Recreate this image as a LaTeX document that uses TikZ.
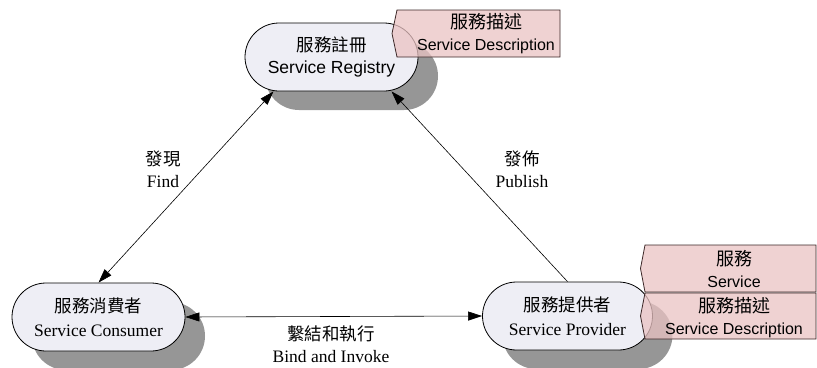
\documentclass[tikz,border=0pt]{standalone}
\usepackage{fontspec}
\setmainfont{Liberation Serif}
\setsansfont{Liberation Sans}
\newfontfamily\cjk{Noto Sans CJK TC}
\usetikzlibrary{shapes.misc,shadows,arrows.meta}
\definecolor{bubble}{RGB}{238,238,245}
\definecolor{shade}{RGB}{150,150,150}
\definecolor{tagpink}{RGB}{234,195,195}
\definecolor{tagline}{RGB}{60,40,40}

\begin{document}
\begin{tikzpicture}[x=1pt,y=-1pt,
  role/.style={rounded rectangle, draw=black, line width=0.8pt, fill=bubble,
    minimum width=173pt, minimum height=68pt, inner sep=0pt, align=center,
    drop shadow={shadow xshift=20pt, shadow yshift=-19pt, fill=shade, opacity=1}},
  rolesans/.style={role, font=\fontsize{17.5}{22}\sffamily},
  roleserif/.style={role, font=\fontsize{17.5}{24}\selectfont},
  tag/.style={fill=tagpink, fill opacity=0.75, draw=tagline, line width=0.8pt},
  tagtext/.style={align=center, font=\fontsize{16}{22.5}\sffamily},
  lbl/.style={align=center, font=\fontsize{17.5}{22}\selectfont},
  link/.style={line width=0.6pt, {Triangle[length=14pt,width=9pt]}-{Triangle[length=14pt,width=9pt]}},
  onelink/.style={line width=0.6pt, -{Triangle[length=14pt,width=9pt]}}
]
\useasboundingbox (0,0) rectangle (817,367);

% the three roles
\node[rolesans] (reg) at (331.5,57) {{\cjk 服務註冊}\\Service Registry};
\node[roleserif] (cons) at (98.5,317) {{\cjk 服務消費者}\\Service Consumer};
\node[roleserif, minimum width=170pt] (prov) at (567.5,316) {{\cjk 服務提供者}\\Service Provider};

% description tags
\filldraw[tag] (397,10) -- (560,10) -- (560,57) -- (397,57) -- (392,33.5) -- cycle;
\node[tagtext] (regdesc) at (486,33.5) {{\cjk\fontsize{18}{22.5}\selectfont 服務描述}\\Service Description};

\filldraw[tag] (645,245) -- (816,245) -- (816,292) -- (645,292) -- (640.5,268.5) -- cycle;
\filldraw[tag] (645,293) -- (816,293) -- (816,339) -- (645,339) -- (640.5,316) -- cycle;
\node[tagtext] (svc) at (734,269) {{\cjk\fontsize{18}{22.5}\selectfont 服務}\\Service};
\node[tagtext] (svcdesc) at (734,317.5) {{\cjk\fontsize{18}{22.5}\selectfont 服務描述}\\Service Description};

% interactions
\draw[link] ([xshift=-58pt]reg.south) -- (cons.north);
\draw[onelink] (prov.north) -- ([xshift=60pt]reg.south);
\draw[link] (cons.east) -- (prov.west);

\node[lbl] (find) at (163,169) {{\cjk 發現}\\Find};
\node[lbl] (publish) at (522,169) {{\cjk 發佈}\\Publish};
\node[lbl] (bind) at (331,344) {{\cjk 繫結和執行}\\Bind and Invoke};
\end{tikzpicture}
\end{document}
